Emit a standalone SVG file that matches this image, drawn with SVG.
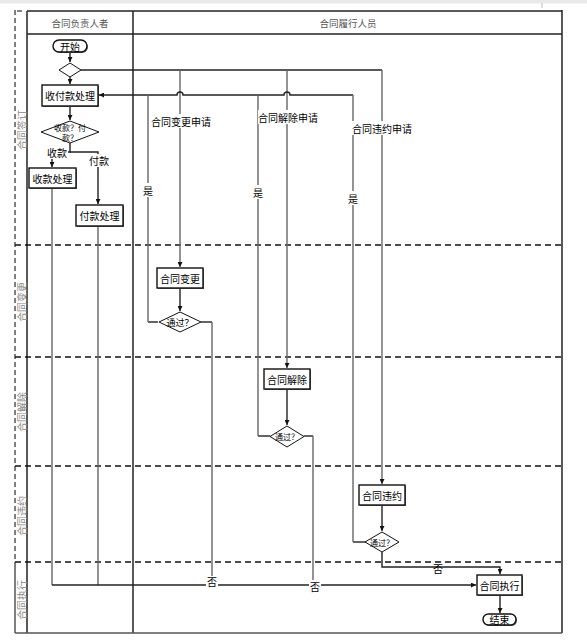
<svg xmlns="http://www.w3.org/2000/svg" width="587" height="643" viewBox="0 0 587 643">
<style>
  .t{font-family:"Noto Sans CJK SC","Liberation Sans",sans-serif;font-size:10px;fill:#000;text-anchor:middle;dominant-baseline:central}
  .h{font-family:"Noto Sans CJK SC","Liberation Sans",sans-serif;font-size:9.5px;fill:#555;text-anchor:middle;dominant-baseline:central}
  .ln{font-family:"Noto Sans CJK SC","Liberation Sans",sans-serif;font-size:10px;fill:#888;text-anchor:middle;dominant-baseline:central}
  .box{fill:#fff;stroke:#111;stroke-width:1.4}
  .sh{fill:#666}
  .dia{fill:#fff;stroke:#111;stroke-width:1}
  .c{fill:none;stroke:#222;stroke-width:1.4}
  .cg{fill:none;stroke:#666;stroke-width:1.4}
  .dash{fill:none;stroke:#111;stroke-width:1.5;stroke-dasharray:6,4}
  .frame{fill:none;stroke:#222;stroke-width:1.5}
  .bg{fill:#fff}
</style>
<defs>
  <marker id="ar" viewBox="0 0 8 8" refX="8" refY="4" markerWidth="5" markerHeight="5" orient="auto" markerUnits="userSpaceOnUse">
    <path d="M0,0 L8,4 L0,8 z" fill="#111"/>
  </marker>
</defs>
<rect x="0" y="0" width="587" height="643" fill="#fff"/>
<rect x="0" y="0" width="587" height="3.5" fill="#e8e9eb"/>
<line x1="542" y1="3" x2="542" y2="8" stroke="#bbb" stroke-width="1"/>

<g id="frame">
  <line x1="15" y1="10" x2="15" y2="562" stroke="#555" stroke-width="1.5" stroke-dasharray="5,3"/>
  <line x1="15" y1="562" x2="15" y2="633" stroke="#555" stroke-width="1.5"/>
  <line x1="17" y1="11" x2="22" y2="11" stroke="#333" stroke-width="1.2"/>
  <line x1="27" y1="11" x2="27" y2="633" class="frame"/>
  <line x1="27" y1="11" x2="562" y2="11" class="frame"/>
  <line x1="27" y1="34" x2="562" y2="34" class="frame"/>
  <line x1="562" y1="10" x2="562" y2="633" class="frame"/>
  <line x1="133" y1="11" x2="133" y2="633" class="frame"/>
  <line x1="15" y1="633" x2="562" y2="633" stroke="#555" stroke-width="1.5"/>
  <line x1="15" y1="245" x2="562" y2="245" class="dash"/>
  <line x1="15" y1="357" x2="562" y2="357" class="dash"/>
  <line x1="15" y1="466" x2="562" y2="466" class="dash"/>
  <line x1="15" y1="562" x2="562" y2="562" class="dash"/>
  <text class="h" x="80" y="23">合同负责人者</text>
  <text class="h" x="348" y="23">合同履行人员</text>
  <text class="ln" transform="translate(21,130) rotate(-90)">合同签订</text>
  <text class="ln" transform="translate(21,302) rotate(-90)">合同变更</text>
  <text class="ln" transform="translate(21,412) rotate(-90)">合同解除</text>
  <text class="ln" transform="translate(21,516) rotate(-90)">合同违约</text>
  <text class="ln" transform="translate(21,600) rotate(-90)">合同执行</text>
</g>

<g id="connectors">
  <path class="c" d="M70,52 V62" marker-end="url(#ar)"/>
  <path class="c" d="M70,77 V84" marker-end="url(#ar)"/>
  <path class="c" d="M70,106 V120" marker-end="url(#ar)"/>
  <path class="c" d="M70,143 V152 H52 V167" marker-end="url(#ar)"/>
  <path class="c" d="M70,152 H98 V204" marker-end="url(#ar)"/>
  <path class="cg" d="M52,188 V585"/>
  <path class="cg" d="M98,226 V585"/>
  <path class="c" d="M52,585 H476" marker-end="url(#ar)"/>
  <path class="c" d="M81,70 H382"/>
  <path class="cg" d="M382,70 V484" marker-end="url(#ar)"/>
  <path class="cg" d="M180,70 V267" marker-end="url(#ar)"/>
  <path class="cg" d="M287,70 V368" marker-end="url(#ar)"/>
  <path class="c" d="M353,95 H290 A3,3 0 0 0 284,95 H183 A3,3 0 0 0 177,95 H99" marker-end="url(#ar)"/>
  <path class="c" d="M180,288 V311" marker-end="url(#ar)"/>
  <path class="c" d="M158,322 H148"/>
  <path class="cg" d="M148,322 V95"/>
  <path class="c" d="M201,322 H212"/>
  <path class="cg" d="M212,322 V585"/>
  <path class="c" d="M287,389 V425" marker-end="url(#ar)"/>
  <path class="c" d="M270,436 H258"/>
  <path class="cg" d="M258,436 V95"/>
  <path class="c" d="M304,436 H313"/>
  <path class="cg" d="M313,436 V585"/>
  <path class="c" d="M382,505 V531" marker-end="url(#ar)"/>
  <path class="c" d="M366,542 H353"/>
  <path class="cg" d="M353,542 V95"/>
  <path class="c" d="M382,552 V567 H500 V574" marker-end="url(#ar)"/>
  <path class="c" d="M500,595 V613" marker-end="url(#ar)"/>
  <rect class="bg" x="46" y="146" width="22" height="13"/>
  <text class="t" x="57" y="152.5">收款</text>
  <rect class="bg" x="88" y="154" width="22" height="13"/>
  <text class="t" x="99" y="160.5">付款</text>
  <rect class="bg" x="151" y="114" width="60" height="14"/>
  <text class="t" x="181" y="121">合同变更申请</text>
  <rect class="bg" x="258" y="110" width="60" height="14"/>
  <text class="t" x="288" y="117">合同解除申请</text>
  <rect class="bg" x="352" y="121" width="60" height="14"/>
  <text class="t" x="382" y="128">合同违约申请</text>
  <rect class="bg" x="143" y="183" width="11" height="14"/>
  <text class="t" x="148" y="190">是</text>
  <rect class="bg" x="253" y="185" width="11" height="14"/>
  <text class="t" x="258" y="192">是</text>
  <rect class="bg" x="348" y="191" width="11" height="14"/>
  <text class="t" x="353" y="198">是</text>
  <rect class="bg" x="206" y="576" width="12" height="12"/>
  <text class="t" x="212" y="581">否</text>
  <rect class="bg" x="309" y="580" width="12" height="12"/>
  <text class="t" x="315" y="586">否</text>
  <text class="t" x="438" y="568">否</text>
</g>

<g id="start">
  <rect x="54" y="41" width="34" height="12" rx="6" class="sh"/>
  <rect x="53" y="40" width="34" height="12" rx="6" class="box"/>
  <text class="t" x="70" y="46">开始</text>
</g>
<g id="d_branch">
  <polygon class="dia" points="70,63 81,70 70,77 59,70"/>
</g>
<g id="n_shoufukuan">
  <rect x="43" y="86" width="56" height="21" class="sh"/>
  <rect x="42" y="85" width="56" height="21" class="box"/>
  <text class="t" x="70" y="95.5">收付款处理</text>
</g>
<g id="d_shoufu">
  <polygon class="dia" points="70,121 99,132 70,143 41,132"/>
  <text class="t" x="70" y="127" style="font-size:8px">收款？付</text>
  <text class="t" x="70" y="137.5" style="font-size:8px">款？</text>
</g>
<g id="n_shoukuan">
  <rect x="30" y="169" width="47" height="20" class="sh"/>
  <rect x="29" y="168" width="47" height="20" class="box"/>
  <text class="t" x="52.5" y="178">收款处理</text>
</g>
<g id="n_fukuan">
  <rect x="77" y="206" width="47" height="21" class="sh"/>
  <rect x="76" y="205" width="47" height="21" class="box"/>
  <text class="t" x="99.5" y="215.5">付款处理</text>
</g>
<g id="n_biangeng">
  <rect x="158" y="269" width="46" height="20" class="sh"/>
  <rect x="157" y="268" width="46" height="20" class="box"/>
  <text class="t" x="180" y="278">合同变更</text>
</g>
<g id="d_biangeng">
  <polygon class="dia" points="180,312 201,322 180,332 159,322"/>
  <text class="t" x="180" y="322" style="font-size:9px">通过？</text>
</g>
<g id="n_jiechu">
  <rect x="265" y="370" width="46" height="20" class="sh"/>
  <rect x="264" y="369" width="46" height="20" class="box"/>
  <text class="t" x="287" y="379">合同解除</text>
</g>
<g id="d_jiechu">
  <polygon class="dia" points="287,426 304,436.5 287,447 270,436.5"/>
  <text class="t" x="287" y="436.5" style="font-size:8px">通过？</text>
</g>
<g id="n_weiyue">
  <rect x="360" y="486" width="46" height="20" class="sh"/>
  <rect x="359" y="485" width="46" height="20" class="box"/>
  <text class="t" x="382" y="495">合同违约</text>
</g>
<g id="d_weiyue">
  <polygon class="dia" points="382,532 399,542 382,552 365,542"/>
  <text class="t" x="382" y="542" style="font-size:8px">通过？</text>
</g>
<g id="n_zhixing">
  <rect x="478" y="576" width="45" height="20" class="sh"/>
  <rect x="477" y="575" width="45" height="20" class="box"/>
  <text class="t" x="499.5" y="585">合同执行</text>
</g>
<g id="end">
  <rect x="484" y="615" width="33" height="11" rx="5.5" class="sh"/>
  <rect x="483" y="614" width="33" height="11" rx="5.5" class="box"/>
  <text class="t" x="499.5" y="619.5">结束</text>
</g>
</svg>
